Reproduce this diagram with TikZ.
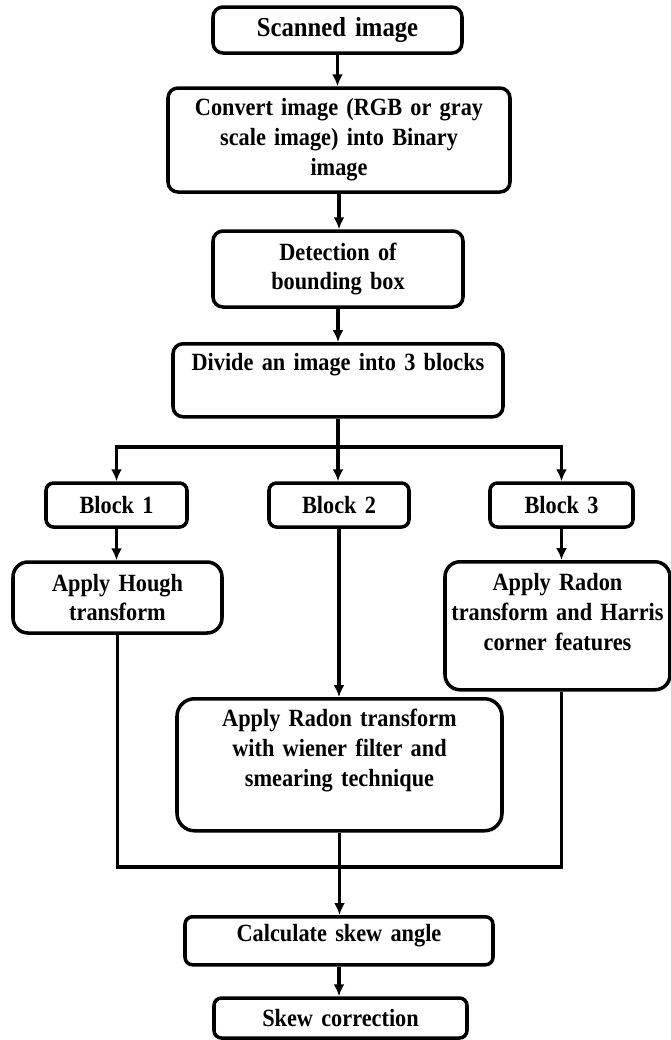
\documentclass[tikz,border=0pt]{standalone}
\usepackage{fontspec}
\setmainfont{Liberation Serif}[FakeStretch=0.9,WordSpace=0.8]
\usepackage{tikz}
\usetikzlibrary{arrows.meta}
\tikzstyle{box} = [draw, line width=2pt, rounded corners=0.2cm, align=center, inner xsep=0pt, inner ysep=0.08cm, font=\fontsize{14.1}{17}\selectfont\bfseries]
\tikzstyle{topbox} = [box, anchor=north]
\tikzstyle{arrow} = [line width=1.8pt, -{Latex[length=2.4mm,width=2.2mm]}]
\tikzstyle{conn} = [line width=1.8pt]

\begin{document}
\begin{tikzpicture}
\useasboundingbox (0,0) rectangle (13.42,-20.8);
\node[box, font=\fontsize{15.6}{17}\selectfont\bfseries, text width=4.98cm, minimum height=0.92cm] (scan) at (6.75,-0.6) {Scanned image};
\node[box, text width=6.84cm, minimum height=2.08cm] (conv) at (6.78,-2.8) {Convert image (RGB or gray\\scale image) into Binary\\image};
\node[box, text width=5.0cm, minimum height=1.52cm] (detect) at (6.76,-5.38) {Detection of\\bounding box};
\node[topbox, text width=6.6cm, text height=0.46cm, text depth=0.84cm] (divide) at (6.76,-6.84) {Divide an image into 3 blocks};
\node[box, rounded corners=0.15cm, text width=2.82cm, minimum height=0.88cm] (block1) at (2.33,-10.1) {Block 1};
\node[box, rounded corners=0.15cm, text width=2.8cm, minimum height=0.88cm] (block2) at (6.78,-10.1) {Block 2};
\node[box, rounded corners=0.15cm, text width=2.86cm, minimum height=0.88cm] (block3) at (11.23,-10.1) {Block 3};
\node[box, rounded corners=0.3cm, text width=4.18cm, minimum height=1.42cm] (hough) at (2.35,-11.95) {Apply Hough\\transform};
\node[topbox, rounded corners=0.3cm, text width=4.5cm, text height=0.5cm, text depth=1.9cm] (harris) at (11.15,-11.2) {Apply Radon\\transform and Harris\\corner features};
\node[topbox, rounded corners=0.35cm, text width=6.5cm, text height=0.48cm, text depth=2.0cm] (wiener) at (6.79,-13.94) {Apply Radon transform\\with wiener filter and\\smearing technique};
\node[topbox, rounded corners=0.15cm, text width=6.16cm, text height=0.42cm, text depth=0.38cm] (calc) at (6.78,-18.3) {Calculate skew angle};
\node[box, rounded corners=0.15cm, text width=5.06cm, minimum height=0.8cm] (skew) at (6.81,-20.36) {Skew correction};
\coordinate (split) at (divide.south |- 0,-8.94);
\coordinate (join) at (wiener.south |- 0,-17.34);
\draw[arrow] (scan.south) -- (scan.south |- conv.north);
\draw[arrow] (conv.south) -- (conv.south |- detect.north);
\draw[arrow] (detect.south) -- (detect.south |- divide.north);
\draw[arrow] (divide.south) -- (divide.south |- block2.north);
\draw[arrow] (split) -| (block1.north);
\draw[arrow] (split) -| (block3.north);
\draw[arrow] (block1.south) -- (block1.south |- hough.north);
\draw[arrow] (block2.south) -- (block2.south |- wiener.north);
\draw[arrow] (block3.south) -- (block3.south |- harris.north);
\draw[conn] (hough.south) |- (join) -| (block3.south |- harris.south);
\draw[arrow] (wiener.south) -- (wiener.south |- calc.north);
\draw[arrow] (calc.south) -- (calc.south |- skew.north);
\end{tikzpicture}
\end{document}
